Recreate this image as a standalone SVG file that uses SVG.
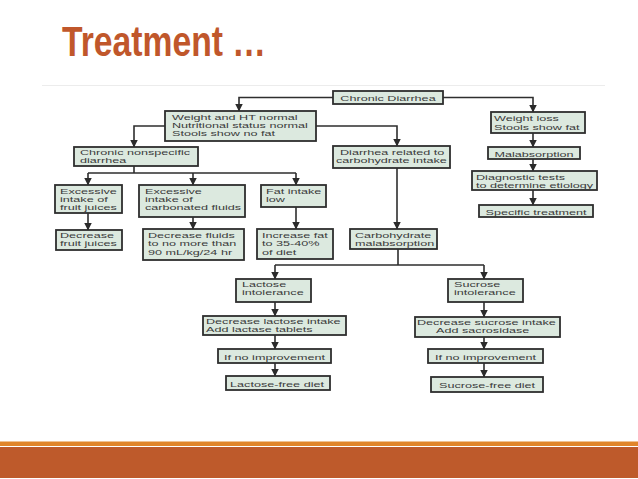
<svg xmlns="http://www.w3.org/2000/svg" width="638" height="479" viewBox="0 0 638 479">
<defs>
<style>
.bx{fill:#dce9df;stroke:#2e2e2e;stroke-width:1.8}
.t{font-family:"Liberation Sans",Arial,sans-serif;font-size:7.6px;fill:#3a3a3a}
.c{text-anchor:middle}
.ln{fill:none;stroke:#2e2e2e;stroke-width:1.6}
.ar{marker-end:url(#ah)}
</style>
<marker id="ah" markerUnits="userSpaceOnUse" viewBox="0 0 8 8" markerWidth="8" markerHeight="8" refX="7.5" refY="4" orient="auto">
<path d="M0,0 L8,4 L0,8 z" fill="#2b2b2b"/>
</marker>
</defs>
<rect width="638" height="479" fill="#ffffff"/>
<text x="62" y="56" font-family="'Liberation Sans',Arial,sans-serif" font-weight="bold" font-size="42" fill="#c0572b" textLength="204" lengthAdjust="spacingAndGlyphs">Treatment …</text>
<line x1="42" y1="85.5" x2="605" y2="85.5" stroke="#ececec" stroke-width="1"/>
<rect x="0" y="441.5" width="638" height="4.5" fill="#e0852a"/>
<rect x="0" y="447" width="638" height="31" fill="#be5a2b"/>

<g id="connectors">
<path class="ln ar" d="M333,97.5 H239 V111"/>
<path class="ln ar" d="M443,97.5 H533 V112"/>
<path class="ln ar" d="M316,126 H397 V146"/>
<path class="ln ar" d="M165,126 H134 V147"/>
<path class="ln" d="M134,166 V173 M88,173 H296"/>
<path class="ln ar" d="M88,173 V185"/>
<path class="ln ar" d="M193,173 V185"/>
<path class="ln ar" d="M296,173 V185"/>
<path class="ln ar" d="M88,213 V230"/>
<path class="ln ar" d="M193,217 V229"/>
<path class="ln ar" d="M296,207 V229"/>
<path class="ln ar" d="M397,168 V229"/>
<path class="ln" d="M398,249 V265 M275,265 H484"/>
<path class="ln ar" d="M275,265 V279"/>
<path class="ln ar" d="M484,265 V279"/>
<path class="ln ar" d="M275,302 V316"/>
<path class="ln ar" d="M484,302 V317"/>
<path class="ln ar" d="M275,335 V349"/>
<path class="ln ar" d="M484,337 V349"/>
<path class="ln ar" d="M275,363 V376"/>
<path class="ln ar" d="M484,363 V377"/>
<path class="ln ar" d="M533,133 V147"/>
<path class="ln ar" d="M533,159 V171"/>
<path class="ln ar" d="M533,190 V205"/>
</g>

<g id="n-chronic-diarrhea"><rect class="bx" x="333" y="91" width="110" height="13"/>
<text class="t c" transform="matrix(1.66 0 0 1 388 101)">Chronic Diarrhea</text></g>

<g id="n-weight-normal"><rect class="bx" x="165" y="111" width="151" height="30"/>
<text class="t" transform="matrix(1.66 0 0 1 172 119.5)"><tspan x="0">Weight and HT normal</tspan><tspan x="0" dy="8.5">Nutritional status normal</tspan><tspan x="0" dy="8.5">Stools show no fat</tspan></text></g>

<g id="n-weight-loss"><rect class="bx" x="491" y="112" width="94" height="21"/>
<text class="t" transform="matrix(1.66 0 0 1 494 121)"><tspan x="0">Weight loss</tspan><tspan x="0" dy="9">Stools show fat</tspan></text></g>

<g id="n-malabsorption"><rect class="bx" x="488" y="147" width="92" height="12"/>
<text class="t c" transform="matrix(1.66 0 0 1 534 156.5)">Malabsorption</text></g>

<g id="n-diagnostic"><rect class="bx" x="472" y="171" width="125" height="19"/>
<text class="t" transform="matrix(1.66 0 0 1 476 179.5)"><tspan x="0">Diagnostic tests</tspan><tspan x="0" dy="8.5">to determine etiology</tspan></text></g>

<g id="n-specific"><rect class="bx" x="479" y="205" width="114" height="12"/>
<text class="t c" transform="matrix(1.66 0 0 1 536 214.5)">Specific treatment</text></g>

<g id="n-carb-intake"><rect class="bx" x="333" y="146" width="117" height="22"/>
<text class="t" transform="matrix(1.66 0 0 1 336 154.5)"><tspan x="2.4">Diarrhea related to</tspan><tspan x="0" dy="8.5">carbohydrate intake</tspan></text></g>

<g id="n-nonspecific"><rect class="bx" x="74" y="147" width="124" height="19"/>
<text class="t" transform="matrix(1.66 0 0 1 80 154.5)"><tspan x="0">Chronic nonspecific</tspan><tspan x="0" dy="8.4">diarrhea</tspan></text></g>

<g id="n-fruit-juice"><rect class="bx" x="55" y="185" width="67" height="28"/>
<text class="t" transform="matrix(1.66 0 0 1 60 193.5)"><tspan x="0">Excessive</tspan><tspan x="0" dy="8.4">intake of</tspan><tspan x="0" dy="8.4">fruit juices</tspan></text></g>

<g id="n-carbonated"><rect class="bx" x="139" y="185" width="106" height="32"/>
<text class="t" transform="matrix(1.66 0 0 1 145 193.5)"><tspan x="0">Excessive</tspan><tspan x="0" dy="8.4">intake of</tspan><tspan x="0" dy="8.4">carbonated fluids</tspan></text></g>

<g id="n-fat-low"><rect class="bx" x="261" y="185" width="65" height="22"/>
<text class="t" transform="matrix(1.66 0 0 1 266 193.5)"><tspan x="0">Fat intake</tspan><tspan x="0" dy="8.4">low</tspan></text></g>

<g id="n-dec-juice"><rect class="bx" x="56" y="230" width="66" height="20"/>
<text class="t" transform="matrix(1.66 0 0 1 60 238)"><tspan x="0">Decrease</tspan><tspan x="0" dy="8.4">fruit juices</tspan></text></g>

<g id="n-dec-fluids"><rect class="bx" x="143" y="229" width="101" height="31"/>
<text class="t" transform="matrix(1.66 0 0 1 148 238)"><tspan x="0">Decrease fluids</tspan><tspan x="0" dy="8.5">to no more than</tspan><tspan x="0" dy="8.5">90 mL/kg/24 hr</tspan></text></g>

<g id="n-inc-fat"><rect class="bx" x="257" y="229" width="76" height="30"/>
<text class="t" transform="matrix(1.66 0 0 1 262 238)"><tspan x="0">Increase fat</tspan><tspan x="0" dy="8.5">to 35-40%</tspan><tspan x="0" dy="8.5">of diet</tspan></text></g>

<g id="n-carb-malab"><rect class="bx" x="350" y="229" width="87" height="20"/>
<text class="t" transform="matrix(1.66 0 0 1 355 237.5)"><tspan x="0">Carbohydrate</tspan><tspan x="0" dy="8.5">malabsorption</tspan></text></g>

<g id="n-lactose"><rect class="bx" x="236" y="279" width="75" height="23"/>
<text class="t" transform="matrix(1.66 0 0 1 242 287)"><tspan x="0">Lactose</tspan><tspan x="0" dy="8.5">intolerance</tspan></text></g>

<g id="n-sucrose"><rect class="bx" x="448" y="279" width="75" height="23"/>
<text class="t" transform="matrix(1.66 0 0 1 454 287)"><tspan x="0">Sucrose</tspan><tspan x="0" dy="8.5">intolerance</tspan></text></g>

<g id="n-dec-lactose"><rect class="bx" x="203" y="316" width="143" height="19"/>
<text class="t" transform="matrix(1.66 0 0 1 206 323.5)"><tspan x="0">Decrease lactose intake</tspan><tspan x="0" dy="8.5">Add lactase tablets</tspan></text></g>

<g id="n-dec-sucrose"><rect class="bx" x="415" y="317" width="145" height="20"/>
<text class="t" transform="matrix(1.66 0 0 1 417 324.5)"><tspan x="0">Decrease sucrose intake</tspan><tspan x="11.5" dy="8.5">Add sacrosidase</tspan></text></g>

<g id="n-noimp-l"><rect class="bx" x="218" y="349" width="113" height="14"/>
<text class="t c" transform="matrix(1.66 0 0 1 274.5 359.5)">If no improvement</text></g>

<g id="n-noimp-r"><rect class="bx" x="428" y="349" width="115" height="14"/>
<text class="t c" transform="matrix(1.66 0 0 1 485.5 359.5)">If no improvement</text></g>

<g id="n-lactose-free"><rect class="bx" x="226" y="376" width="104" height="14"/>
<text class="t c" transform="matrix(1.66 0 0 1 277 386.5)">Lactose-free diet</text></g>

<g id="n-sucrose-free"><rect class="bx" x="431" y="377" width="112" height="15"/>
<text class="t c" transform="matrix(1.66 0 0 1 487 388)">Sucrose-free diet</text></g>
</svg>
